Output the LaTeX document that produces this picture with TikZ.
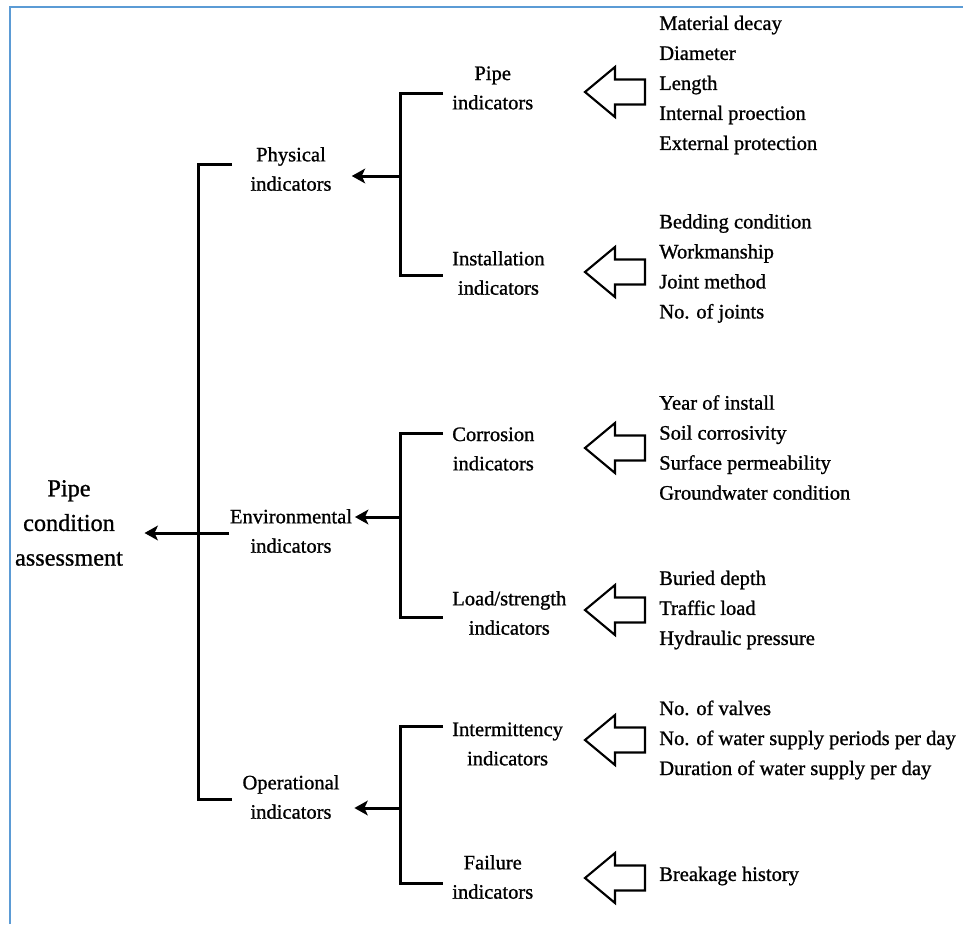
\documentclass[tikz,border=0pt]{standalone}
\usepackage{fontspec}
\setmainfont{Liberation Serif}[FakeBold=1]
\usetikzlibrary{arrows.meta}
\definecolor{borderblue}{RGB}{91,155,213}
\tikzset{
  lbl/.style={inner sep=0pt, align=center, font=\fontsize{15.4}{22}\selectfont},
  lst/.style={inner sep=0pt, align=left, anchor=west, font=\fontsize{15.4}{22.5}\selectfont},
  br/.style={line width=2.25pt, line cap=butt, line join=miter},
  arr/.style={line width=2.25pt, -{Stealth[length=10pt,width=11pt,inset=2.5pt]}},
  hollow/.pic={\draw[line width=1.6pt, line join=miter] (0,0) -- (30,-25) -- (30,-12.5) -- (60,-12.5) -- (60,12.5) -- (30,12.5) -- (30,25) -- cycle;}
}
\begin{document}
\begin{tikzpicture}[x=0.75pt,y=-0.75pt]
\useasboundingbox (0,0) rectangle (963,924);
\draw[line width=1.5pt, borderblue] (10,924) -- (10,7) -- (963,7);

% root and level 1
\node[lbl, font=\fontsize{18.2}{26}\selectfont] (root) at (69,523) {Pipe\\condition\\assessment};
\node[lbl] (phys) at (291,169) {Physical\\indicators};
\node[lbl] (env) at (291,531) {Environmental\\indicators};
\node[lbl] (oper) at (291,797) {Operational\\indicators};

% level 2
\node[lbl, anchor=west] (pipe) at (452,88) {Pipe\\indicators};
\node[lbl, anchor=west] (inst) at (452,273) {Installation\\indicators};
\node[lbl, anchor=west] (corr) at (452,449) {Corrosion\\indicators};
\node[lbl, anchor=west] (load) at (452,613) {Load/strength\\indicators};
\node[lbl, anchor=west] (inter) at (452,744) {Intermittency\\indicators};
\node[lbl, anchor=west] (fail) at (452,877) {Failure\\indicators};

% lists
\node[lst] (l1) at (659,85) {Material decay\\Diameter\\Length\\Internal proection\\External protection};
\node[lst] (l2) at (659,268.5) {Bedding condition\\Workmanship\\Joint method\\No. of joints};
\node[lst] (l3) at (659,447.5) {Year of install\\Soil corrosivity\\Surface permeability\\Groundwater condition};
\node[lst] (l4) at (659,610) {Buried depth\\Traffic load\\Hydraulic pressure};
\node[lst] (l5) at (659,740) {No. of valves\\No. of water supply periods per day\\Duration of water supply per day};
\node[lst] (l6) at (659,876) {Breakage history};

% hollow arrows
\pic at (585,92) {hollow};
\pic at (585,272) {hollow};
\pic at (585,448) {hollow};
\pic at (585,610) {hollow};
\pic at (585,740) {hollow};
\pic at (585,878) {hollow};

% brackets
\draw[br] (232,164) -| (198,799) -- (232,799);
\draw[br] (443,93) -| (400,275) -- (443,275);
\draw[br] (443,433) -| (400,617) -- (443,617);
\draw[br] (443,726) -| (400,883) -- (443,883);

% arrows
\coordinate (jp) at (400,176);
\coordinate (je) at (400,517);
\coordinate (jo) at (400,808);
\coordinate (jr) at (229,533);
\draw[arr, shorten >=15pt] (jp) -- (phys.east |- jp);
\draw[arr, shorten >=2pt] (je) -- (env.east |- je);
\draw[arr, shorten >=11pt] (jo) -- (oper.east |- jo);
\draw[arr, shorten >=16pt] (jr) -- (root.east |- jr);
\end{tikzpicture}
\end{document}
